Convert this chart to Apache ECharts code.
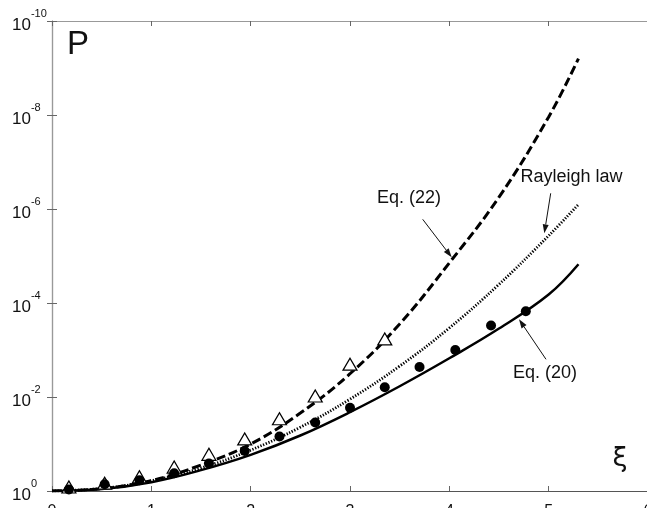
<!DOCTYPE html>
<html>
<head>
<meta charset="utf-8">
<script src="https://cdn.jsdelivr.net/npm/echarts@6/dist/echarts.min.js"></script>
<style>
  html, body { margin: 0; padding: 0; background: #fff; }
  #chart { width: 647px; height: 508px; }
</style>
</head>
<body>
<div id="chart"></div>
<script>
// curves (P on a log scale)
const XI = [0, 0.5, 1, 1.5, 2, 2.5, 3, 3.5, 4, 4.5, 5, 5.3];
const EQ22 = [1, 0.89, 0.60, 0.28, 0.10, 2.2e-2, 3.2e-3, 2.8e-4, 1.4e-5, 5.6e-7, 1.1e-8, 6.3e-10];
const RAYLEIGH = [1, 0.883, 0.607, 0.325, 0.135, 4.4e-2, 1.11e-2, 2.2e-3, 3.4e-4, 4.0e-5, 3.7e-6, 8.0e-7];
const EQ20 = [1, 0.91, 0.65, 0.36, 0.17, 6.6e-2, 2.1e-2, 5.9e-3, 1.5e-3, 3.5e-4, 6.6e-5, 1.5e-5];

// open triangles
const TRI_XI = [0.17, 0.53, 0.88, 1.23, 1.58, 1.94, 2.29, 2.65, 3.0, 3.35];
const TRI_P = [0.82, 0.68, 0.50, 0.31, 0.166, 7.8e-2, 2.9e-2, 9.5e-3, 2.0e-3, 5.8e-4];

// filled dots
const DOT_XI = [0.17, 0.53, 0.88, 1.23, 1.58, 1.94, 2.29, 2.65, 3.0, 3.35, 3.70, 4.06, 4.42, 4.77];
const DOT_P = [0.93, 0.72, 0.59, 0.42, 0.26, 0.141, 6.9e-2, 3.5e-2, 1.7e-2, 6.2e-3, 2.3e-3, 1.0e-3, 3.0e-4, 1.5e-4];

const X_TICKS = [0, 1, 2, 3, 4, 5, 6];

const FONT = '"Liberation Sans", Arial, sans-serif';
const pairs = (xs, ys) => xs.map((x, i) => [x, ys[i]]);

// thin arrow with a filled head at (x2, y2)
function arrow(x1, y1, x2, y2) {
  const a = Math.atan2(y2 - y1, x2 - x1), L = 9, W = 3;
  const bx = x2 - L * Math.cos(a), by = y2 - L * Math.sin(a);
  const nx = -Math.sin(a) * W, ny = Math.cos(a) * W;
  return [
    { type: 'line', shape: { x1, y1, x2: bx, y2: by }, style: { stroke: '#111', lineWidth: 1 } },
    { type: 'polygon', shape: { points: [[x2, y2], [bx + nx, by + ny], [bx - nx, by - ny]] }, style: { fill: '#111' } },
  ];
}

const txt = (text, x, y, size, family) => ({
  type: 'text', z: 10,
  style: { text, x, y, font: `${size}px ${family || FONT}`, fill: '#111', align: 'center', verticalAlign: 'middle' },
});

const c = echarts.init(document.getElementById('chart'), null, { renderer: 'canvas' });

const xBase = {
  type: 'value', min: 0, max: 6, interval: 1,
  splitLine: { show: false },
  axisTick: { inside: true, length: 5, lineStyle: { color: '#666' } },
};
const yBase = {
  type: 'log', logBase: 10, min: 1e-10, max: 1, inverse: true, interval: 2, splitNumber: 5,
  splitLine: { show: false }, minorTick: { show: false },
  axisTick: { inside: true, length: 5, lineStyle: { color: '#666' } },
};

c.setOption({
  animation: false,
  backgroundColor: '#fff',
  grid: { left: 52, right: -1, top: 21, bottom: 17, outerBoundsMode: 'none', containLabel: false },
  xAxis: [
    {
      ...xBase, position: 'bottom',
      axisLine: { lineStyle: { color: '#555', width: 1.2 } },
      axisLabel: {
        margin: 13, color: '#111', fontSize: 16, fontFamily: FONT,
        formatter: v => X_TICKS.includes(v) ? String(v) : '',
      },
    },
    {
      ...xBase, position: 'top',
      axisLine: { lineStyle: { color: '#999', width: 1.2 } },
      axisLabel: { show: false },
    },
  ],
  yAxis: [
    {
      ...yBase, position: 'left',
      axisLine: { lineStyle: { color: '#999', width: 1.2 } },
      axisLabel: {
        margin: 40, align: 'left', color: '#111',
        formatter: v => `{b|10}{s|${Math.round(Math.log10(v))}}`,
        rich: {
          b: { fontSize: 17, fontFamily: FONT, color: '#111', lineHeight: 26, verticalAlign: 'bottom' },
          s: { fontSize: 11, fontFamily: FONT, color: '#111', lineHeight: 10, verticalAlign: 'top' },
        },
      },
    },
    {
      ...yBase, position: 'right',
      axisLine: { lineStyle: { color: '#999', width: 1.2 } },
      axisLabel: { show: false },
    },
  ],
  series: [
    {
      name: 'Eq. (22)', type: 'line', data: pairs(XI, EQ22), smooth: 0.4, showSymbol: false,
      lineStyle: { color: '#000', width: 3, type: [9, 4] },
    },
    {
      name: 'Rayleigh law', type: 'line', data: pairs(XI, RAYLEIGH), smooth: 0.4, showSymbol: false,
      lineStyle: { color: '#000', width: 2.8, type: [1.3, 1.6] },
    },
    {
      name: 'Eq. (20)', type: 'line', data: pairs(XI, EQ20), smooth: 0.4, showSymbol: false,
      lineStyle: { color: '#000', width: 2.5 },
    },
    {
      type: 'scatter', data: pairs(TRI_XI, TRI_P), symbol: 'triangle', symbolSize: [14, 12], z: 5,
      itemStyle: { color: '#fff', borderColor: '#000', borderWidth: 1.2, opacity: 1 },
    },
    {
      type: 'scatter', data: pairs(DOT_XI, DOT_P), symbol: 'circle', symbolSize: 10, z: 6,
      itemStyle: { color: '#000', opacity: 1 },
    },
  ],
  graphic: [
    txt('P', 78, 45, 33),
    txt('ξ', 620, 459, 27, '"DejaVu Sans", sans-serif'),
    txt('Eq. (22)', 409, 198.5, 18),
    txt('Rayleigh law', 571.5, 176.6, 18),
    txt('Eq. (20)', 545, 373.5, 18),
    ...arrow(422.7, 219.3, 451.7, 257.3),
    ...arrow(550.7, 193.3, 544.3, 233.3),
    ...arrow(546, 359.3, 519, 319.3),
  ],
});
</script>
</body>
</html>
